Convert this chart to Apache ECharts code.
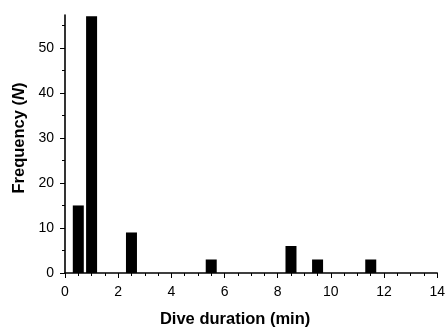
<!DOCTYPE html>
<html>
<head>
<meta charset="utf-8">
<script src="https://cdn.jsdelivr.net/npm/echarts@6/dist/echarts.min.js"></script>
<style>html,body{margin:0;padding:0;background:#fff}#c{width:448px;height:333px}</style>
</head>
<body>
<div id="c"></div>
<script>
// Dive duration bin centres (min) and frequencies (N)
var durations = [0.5, 1.0, 2.5, 5.5, 8.5, 9.5, 11.5];
var counts = [15, 57, 9, 3, 6, 3, 3];
var yMajorTicks = [0, 10, 20, 30, 40, 50];
var yMinorTicks = [5, 15, 25, 35, 45, 55];

var data = durations.map(function (d, i) { return [d, counts[i]]; });
var font = 'Liberation Sans, Arial, sans-serif';
var chart = echarts.init(document.getElementById('c'));
chart.setOption({
  animation: false,
  grid: { left: 65, top: 15, width: 373, height: 262 },
  xAxis: {
    type: 'value', min: 0, max: 14, interval: 2,
    name: 'Dive duration (min)', nameLocation: 'middle', nameGap: 38,
    nameTextStyle: { fontFamily: font, fontWeight: 'bold', fontSize: 16.5, color: '#000', padding: [0, 32, 0, 0] },
    axisLine: { show: true, lineStyle: { color: '#000', width: 1.6 } },
    axisTick: { show: true, length: 5, inside: false, lineStyle: { color: '#000', width: 1 } },
    minorTick: { show: true, splitNumber: 4, length: 3, lineStyle: { color: '#000', width: 1 } },
    splitLine: { show: false },
    axisLabel: { fontFamily: font, fontSize: 14, color: '#000', margin: 12 }
  },
  yAxis: [{
    type: 'value', min: 0, max: 57.3,
    name: 'Frequency ({i|N})', nameLocation: 'middle', nameGap: 36, nameRotate: 90,
    nameTextStyle: { fontFamily: font, fontWeight: 'bold', fontSize: 16.5, color: '#000',
      padding: [0, 0, 0, 12],
      rich: { i: { fontFamily: font, fontWeight: 'bold', fontStyle: 'italic', fontSize: 16.5, color: '#000' } } },
    axisLine: { show: true, lineStyle: { color: '#000', width: 1.6 } },
    axisTick: { show: true, length: 5, customValues: yMajorTicks, lineStyle: { color: '#000', width: 1 } },
    axisLabel: { customValues: yMajorTicks, fontFamily: font, fontSize: 14, color: '#000', margin: 11 },
    splitLine: { show: false }
  }, {
    type: 'value', min: 0, max: 57.3, position: 'left',
    axisLine: { show: false },
    axisTick: { show: true, length: 3, customValues: yMinorTicks, lineStyle: { color: '#000', width: 1 } },
    axisLabel: { show: false },
    splitLine: { show: false }
  }],
  series: [{
    type: 'bar', data: data, barWidth: 11, yAxisIndex: 0,
    itemStyle: { color: '#000' }
  }]
});
</script>
</body>
</html>
